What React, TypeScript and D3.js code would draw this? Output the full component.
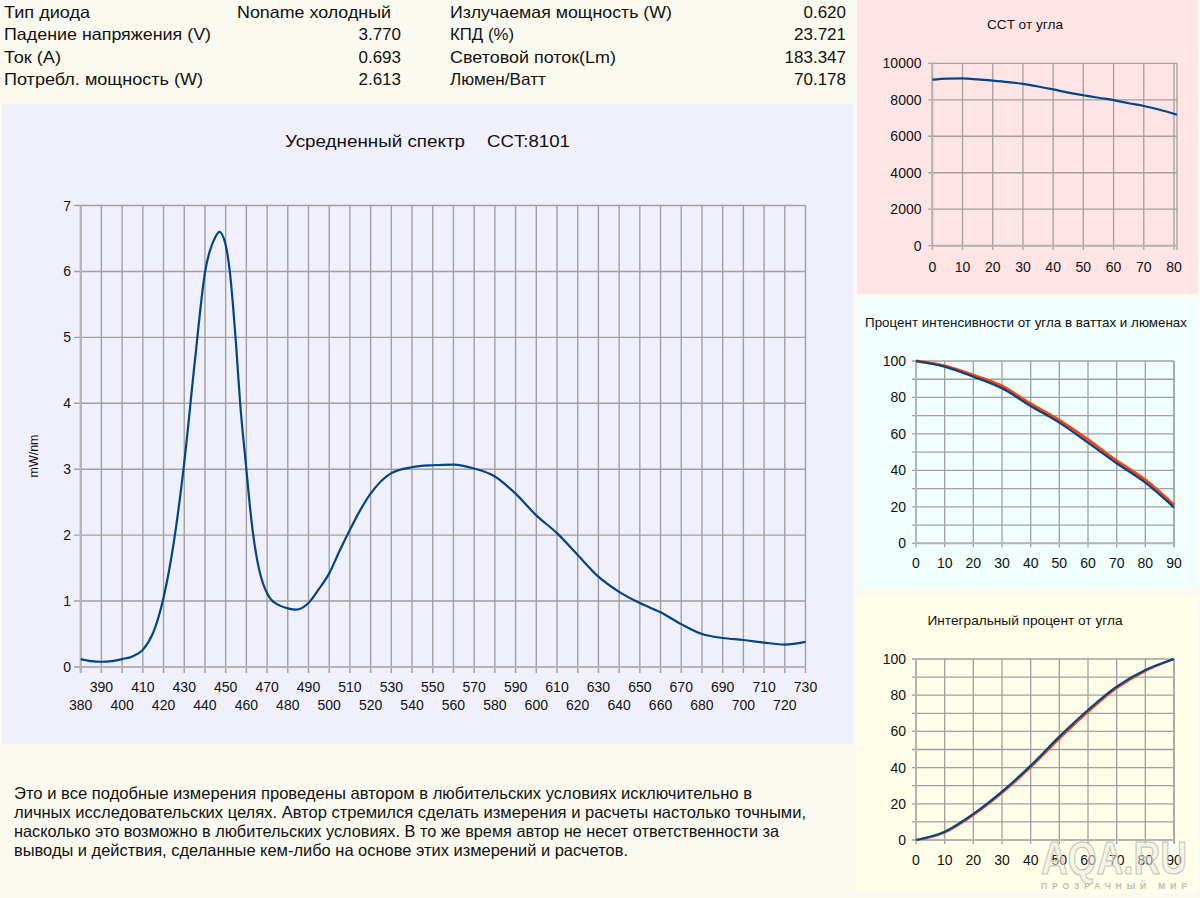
import React from "react";
import * as d3 from "d3";

// ---------- Header data ----------
const leftLabels = ["Тип диода", "Падение напряжения (V)", "Ток (A)", "Потребл. мощность (W)"];
const leftValues = ["Noname холодный", "3.770", "0.693", "2.613"];
const rightLabels = ["Излучаемая мощность (W)", "КПД (%)", "Световой поток(Lm)", "Люмен/Ватт"];
const rightValues = ["0.620", "23.721", "183.347", "70.178"];

// ---------- Spectrum ----------
const wavelengths = [380, 385, 390, 395, 400, 405, 410, 415, 420, 425, 430, 435, 440, 445, 447, 450, 452, 455, 457, 460, 462, 464, 466, 468, 470, 472, 475, 480, 484, 490, 495, 500, 505, 510, 515, 520, 530, 540, 550, 560, 570, 580, 590, 600, 610, 620, 630, 640, 650, 660, 670, 680, 690, 700, 710, 720, 730];
const spectrum = [0.12, 0.09, 0.08, 0.09, 0.12, 0.16, 0.26, 0.52, 1.05, 1.9, 3.1, 4.6, 5.98, 6.52, 6.6, 6.4, 6.0, 4.9, 4.0, 3.0, 2.35, 1.85, 1.5, 1.27, 1.12, 1.02, 0.95, 0.89, 0.87, 0.97, 1.18, 1.42, 1.76, 2.08, 2.38, 2.63, 2.94, 3.03, 3.06, 3.07, 3.01, 2.89, 2.63, 2.3, 2.03, 1.7, 1.37, 1.14, 0.97, 0.83, 0.65, 0.5, 0.44, 0.41, 0.37, 0.34, 0.38];
const spectrumTicks = d3.range(380, 731, 10);
const spectrumYTicks = [0, 1, 2, 3, 4, 5, 6, 7];

// ---------- CCT vs angle ----------
const cctAngles = [0, 5, 10, 15, 20, 25, 30, 35, 40, 45, 50, 55, 60, 65, 70, 75, 81];
const cctValues = [9100, 9160, 9170, 9120, 9050, 8970, 8870, 8730, 8570, 8390, 8250, 8110, 7980, 7810, 7660, 7470, 7180];
const cctXTicks = [0, 10, 20, 30, 40, 50, 60, 70, 80];
const cctYTicks = [0, 2000, 4000, 6000, 8000, 10000];

// ---------- Intensity % vs angle ----------
const angles = [0, 10, 20, 30, 40, 50, 60, 70, 80, 90];
const intensityWatts = [100, 96.9, 91.4, 85, 75.3, 66.2, 55.2, 43.9, 33.3, 19.7];
const intensityLumens = [100, 97.3, 92.2, 86.2, 76.5, 67.5, 56.8, 45.3, 34.8, 21];

// ---------- Integral % vs angle ----------
const integralWatts = [0, 4.6, 14.4, 26.7, 41.1, 57.1, 71.8, 84.7, 93.9, 100];
const integralLumens = [0, 4.2, 13.8, 26, 40.2, 56, 70.8, 83.9, 93.4, 100];
const pctYTicks = [0, 20, 40, 60, 80, 100];
const pctYGrid = d3.range(0, 101, 10);
const angleTicks = [0, 10, 20, 30, 40, 50, 60, 70, 80, 90];

const footerLines = [
  "Это и все подобные  измерения проведены автором в любительских условиях исключительно в",
  "личных исследовательских целях. Автор стремился сделать измерения и расчеты настолько точными,",
  "насколько это возможно в любительских условиях. В то же время автор не несет ответственности за",
  "выводы и действия, сделанные кем-либо на основе этих измерений и расчетов.",
];

const LAYOUT = {
  leftLabelW: [86, 207, 57, 199],
  rightLabelW: [222, 64, 166, 96],
  footerW: [738, 792, 765, 614],
};

const FONT = "'Liberation Sans', Arial, sans-serif";
const GRID = "#a0a0a0";
const BLUE = "#004586";
const RED = "#ff420e";

type SmallProps = {
  x0: number; x1: number; y0: number; y1: number;
  xDomain: [number, number]; yDomain: [number, number];
  xTicks: number[]; yTicks: number[]; yGrid: number[];
  series: { xs: number[]; ys: number[]; color: string; width: number }[];
  labelRight: number; xLabelY: number;
};

function SmallChart(p: SmallProps) {
  const x = d3.scaleLinear().domain(p.xDomain).range([p.x0, p.x1]);
  const y = d3.scaleLinear().domain(p.yDomain).range([p.y1, p.y0]);
  const right = x(p.xDomain[1]);
  return (
    <g>
      {p.yGrid.map((t) => (
        <line key={"hy" + t} x1={x(p.xDomain[0]) - 4} x2={right} y1={y(t)} y2={y(t)} stroke={GRID} strokeWidth={1.3} />
      ))}
      {p.xTicks.map((t) => (
        <line key={"vx" + t} x1={x(t)} x2={x(t)} y1={y(p.yDomain[1])} y2={y(p.yDomain[0]) + 4} stroke={GRID} strokeWidth={1.3} />
      ))}
      <line x1={right} x2={right} y1={y(p.yDomain[1])} y2={y(p.yDomain[0]) + 4} stroke={GRID} strokeWidth={1.3} />
      <line x1={x(p.xDomain[0])} x2={x(p.xDomain[0])} y1={y(p.yDomain[1])} y2={y(p.yDomain[0])} stroke="#b3b3b3" strokeWidth={2} />
      <line x1={x(p.xDomain[0])} x2={right} y1={y(p.yDomain[0])} y2={y(p.yDomain[0])} stroke="#b3b3b3" strokeWidth={2} />
      {p.yTicks.map((t) => (
        <text key={"ly" + t} x={p.labelRight} y={y(t) + 5} textAnchor="end" fontSize={14} fontFamily={FONT} fill="#111">{t}</text>
      ))}
      {p.xTicks.map((t) => (
        <text key={"lx" + t} x={x(t)} y={p.xLabelY} textAnchor="middle" fontSize={14} fontFamily={FONT} fill="#111">{t}</text>
      ))}
      {p.series.map((s, i) => {
        const line = d3.line<number>()
          .x((_, j) => x(s.xs[j]))
          .y((v) => y(v))
          .curve(d3.curveMonotoneX);
        return <path key={i} d={line(s.ys) || ""} fill="none" stroke={s.color} strokeWidth={s.width} strokeLinejoin="round" />;
      })}
    </g>
  );
}

export default function App() {
  const sx = d3.scaleLinear().domain([380, 730]).range([80.7, 805.5]);
  const sy = d3.scaleLinear().domain([0, 7]).range([667, 205.5]);
  const specLine = d3.line<number>()
    .x((_, i) => sx(wavelengths[i]))
    .y((v) => sy(v))
    .curve(d3.curveMonotoneX);

  const rowY = [18, 40, 62.5, 85];

  return (
    <svg width={1200} height={898} style={{ position: "absolute", left: 0, top: 0 }} fontFamily={FONT}>
      <rect x={0} y={0} width={1200} height={898} fill="#fbfaf0" />
      <rect x={2} y={104} width={851} height={640} fill="#f0f0fd" />
      <rect x={857} y={0} width={341} height={294} fill="#fee4e4" />
      <rect x={857} y={298} width={341} height={290} fill="#f0fefd" />
      <rect x={857} y={596} width={341} height={297} fill="#fefee9" />

      {/* header */}
      {leftLabels.map((l, i) => (
        <text key={"ll" + i} x={4} y={rowY[i]} fontSize={16.5} fill="#111" textLength={LAYOUT.leftLabelW[i]} lengthAdjust="spacingAndGlyphs">{l}</text>
      ))}
      {leftValues.map((v, i) =>
        i === 0 ? (
          <text key={"lv" + i} x={237} y={rowY[i]} fontSize={16.5} fill="#111" textLength={154} lengthAdjust="spacingAndGlyphs">{v}</text>
        ) : (
          <text key={"lv" + i} x={401} y={rowY[i]} fontSize={17} textAnchor="end" fill="#111">{v}</text>
        )
      )}
      {rightLabels.map((l, i) => (
        <text key={"rl" + i} x={450} y={rowY[i]} fontSize={16.5} fill="#111" textLength={LAYOUT.rightLabelW[i]} lengthAdjust="spacingAndGlyphs">{l}</text>
      ))}
      {rightValues.map((v, i) => (
        <text key={"rv" + i} x={846} y={rowY[i]} fontSize={17} textAnchor="end" fill="#111">{v}</text>
      ))}

      {/* main chart */}
      <text x={285} y={147} fontSize={17} fill="#111" textLength={180} lengthAdjust="spacingAndGlyphs">Усредненный спектр</text>
      <text x={487} y={147} fontSize={17} fill="#111" textLength={83} lengthAdjust="spacingAndGlyphs">CCT:8101</text>
      {spectrumYTicks.map((t) => (
        <line key={"gy" + t} x1={74} x2={sx(730)} y1={sy(t)} y2={sy(t)} stroke={GRID} strokeWidth={1.4} />
      ))}
      {spectrumTicks.map((t) => (
        <line key={"gx" + t} x1={sx(t)} x2={sx(t)} y1={sy(7)} y2={sy(0) + 6} stroke={GRID} strokeWidth={1.4} />
      ))}
      <line x1={sx(380)} x2={sx(380)} y1={sy(7)} y2={sy(0) + 6} stroke="#b3b3b3" strokeWidth={2.2} />
      <line x1={74} x2={sx(730)} y1={sy(0)} y2={sy(0)} stroke="#b3b3b3" strokeWidth={2.2} />
      {spectrumYTicks.map((t) => (
        <text key={"ty" + t} x={71} y={sy(t) + 5} fontSize={14} textAnchor="end" fill="#111">{t}</text>
      ))}
      {spectrumTicks.map((t, i) => (
        <text key={"tx" + t} x={sx(t)} y={i % 2 === 1 ? 692 : 710} fontSize={14} textAnchor="middle" fill="#111">{t}</text>
      ))}
      <text transform="translate(38,456) rotate(-90)" fontSize={12.5} textAnchor="middle" fill="#111">mW/nm</text>
      <path d={specLine(spectrum) || ""} fill="none" stroke={BLUE} strokeWidth={2.2} strokeLinejoin="round" />

      {/* footer */}
      {footerLines.map((l, i) => (
        <text key={"f" + i} x={14} y={799 + i * 19} fontSize={16.5} textLength={LAYOUT.footerW[i]} lengthAdjust="spacingAndGlyphs"
          fontFamily="'Liberation Sans Narrow', 'Arial Narrow', 'Liberation Sans', sans-serif" fill="#111">{l}</text>
      ))}

      {/* CCT chart */}
      <text x={1025} y={29} fontSize={13.5} textAnchor="middle" fill="#111" textLength={76} lengthAdjust="spacingAndGlyphs">CCT от угла</text>
      <SmallChart x0={932.3} x1={1177} y0={63.3} y1={245.7} xDomain={[0, 81]} yDomain={[0, 10000]}
        xTicks={cctXTicks} yTicks={cctYTicks} yGrid={cctYTicks}
        series={[{ xs: cctAngles, ys: cctValues, color: BLUE, width: 2.2 }]}
        labelRight={921.5} xLabelY={272} />

      {/* intensity chart */}
      <text x={1026} y={327} fontSize={13.5} textAnchor="middle" fill="#111" textLength={322} lengthAdjust="spacingAndGlyphs">Процент интенсивности от угла в ваттах и люменах</text>
      <SmallChart x0={916} x1={1174} y0={361} y1={543.3} xDomain={[0, 90]} yDomain={[0, 100]}
        xTicks={angleTicks} yTicks={pctYTicks} yGrid={pctYGrid}
        series={[
          { xs: angles, ys: intensityLumens, color: RED, width: 3 },
          { xs: angles, ys: intensityWatts, color: BLUE, width: 2.2 },
        ]}
        labelRight={906} xLabelY={568} />

      {/* integral chart */}
      <text x={1025} y={625} fontSize={13.5} textAnchor="middle" fill="#111" textLength={195} lengthAdjust="spacingAndGlyphs">Интегральный процент от угла</text>
      <SmallChart x0={916} x1={1174} y0={659} y1={840} xDomain={[0, 90]} yDomain={[0, 100]}
        xTicks={angleTicks} yTicks={pctYTicks} yGrid={pctYGrid}
        series={[
          { xs: angles, ys: integralLumens, color: RED, width: 2.2 },
          { xs: angles, ys: integralWatts, color: BLUE, width: 2.2 },
        ]}
        labelRight={906} xLabelY={865} />

      {/* watermark */}
      <text x={1114} y={874} fontSize={47} fontWeight="bold" textAnchor="middle" fill="rgba(235,235,225,0.5)" stroke="#c4c4bc" strokeWidth={1.2}
        textLength={146} lengthAdjust="spacingAndGlyphs">AQA.RU</text>
      <text x={1114} y={889} fontSize={8.5} fontWeight="bold" textAnchor="middle" fill="#bdbdb5" textLength={146} lengthAdjust="spacing">ПРОЗРАЧНЫЙ МИР</text>
    </svg>
  );
}
